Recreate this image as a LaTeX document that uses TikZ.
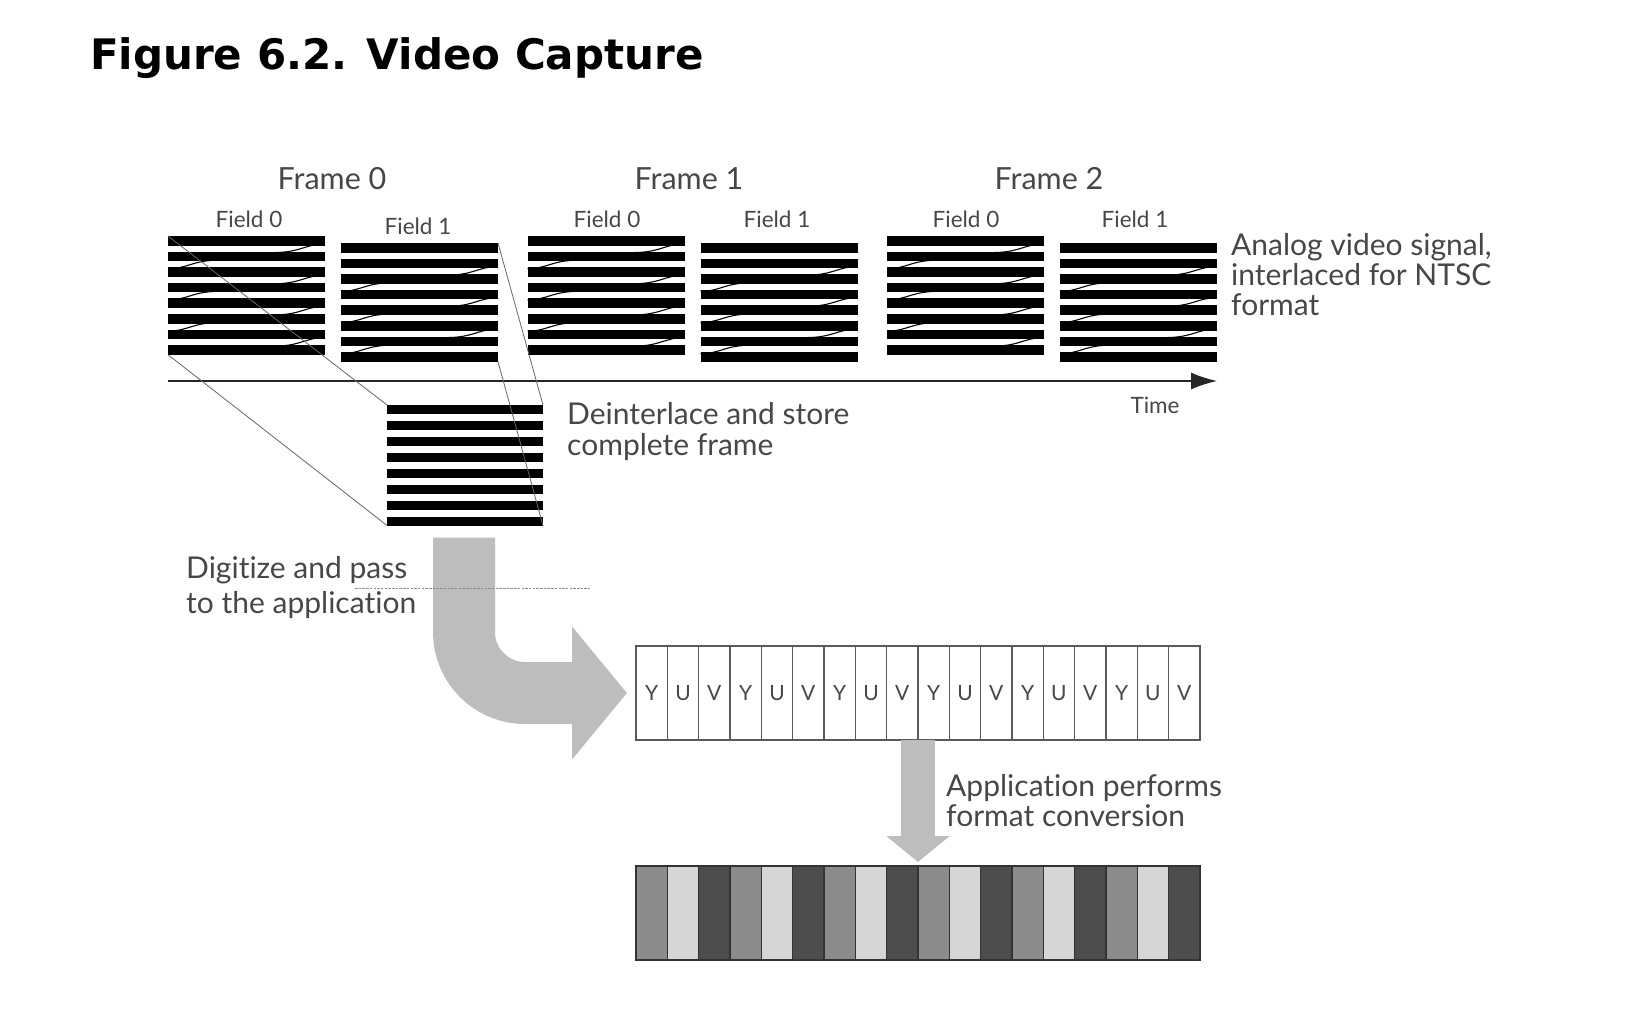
\documentclass[tikz,border=0pt]{standalone}
\usepackage{fontspec}
\setmainfont{Lato}[Ligatures={NoCommon}]
\newfontfamily\titlefont{DejaVu Sans}
\usetikzlibrary{arrows.meta,calc}
\definecolor{txt}{HTML}{474747}
\definecolor{arrowgray}{HTML}{BDBDBD}
\definecolor{cmid}{HTML}{8C8C8C}
\definecolor{clight}{HTML}{D6D6D6}
\definecolor{cdark}{HTML}{4D4D4D}
\tikzset{
  fieldbox/.style={minimum width=157pt, minimum height=118.7pt, inner sep=0pt, outer sep=0pt, anchor=north west},
  deintbox/.style={minimum width=156pt, minimum height=120.5pt, inner sep=0pt, outer sep=0pt, anchor=north west},
  biglabel/.style={font=\fontsize{30}{30}\selectfont, text=txt, align=left, inner sep=0pt, anchor=west},
  framelabel/.style={font=\fontsize{30.5}{32}\selectfont, text=txt, inner sep=0pt},
  smalllabel/.style={font=\fontsize{22.5}{24}\selectfont, text=txt, inner sep=0pt},
  guide/.style={draw=black!60, line width=0.8pt},
  retrace/.style={draw=black, line width=1.1pt},
  yuvcell/.style={draw=black!65, line width=1.3pt, minimum width=31.33pt, minimum height=94pt, inner sep=0pt, outer sep=0pt, anchor=north west, font=\fontsize{21}{22}\selectfont, text=txt},
  pixcell/.style={draw=black!80, line width=1.3pt, minimum width=31.33pt, minimum height=94pt, inner sep=0pt, outer sep=0pt, anchor=north west},
  timeaxis/.style={draw=black!85, line width=1.5pt, -{Latex[length=26pt,width=17pt]}},
  bigflow/.style={draw=arrowgray, line width=62pt, rounded corners=61pt, -{Triangle[width=130pt,length=55pt]}},
  smallflow/.style={draw=arrowgray, line width=34pt, -{Triangle[width=62pt,length=26pt]}},
  callout/.style={draw=black!45, line width=0.8pt, dash pattern=on 2.5pt off 1.2pt}
}
% #1 node name, #2 gaps with retrace at right, #3 gaps with retrace at left
\newcommand{\scanfield}[3]{%
  \foreach \k in {0,...,7}{\fill[black] ($(#1.north west)+(0,\k*15.6)$) rectangle ++(157,9.5);}
  \foreach \g in {#2}{\draw[retrace] ($(#1.north west)+(157,{(\g-1)*15.6+8})$) .. controls +(-20,0) and +(28,0) .. ($(#1.north west)+(105,{\g*15.6+1})$);}
  \foreach \g in {#3}{\draw[retrace] ($(#1.north west)+(0,{\g*15.6+1.5})$) .. controls +(20,0) and +(-28,0) .. ($(#1.north west)+(52,{(\g-1)*15.6+8.5})$);}
}
\begin{document}
\begin{tikzpicture}[x=1pt,y=-1pt]
\useasboundingbox[fill=white] (0,0) rectangle (1628,1014);
% title
\node[anchor=base west, inner sep=0pt, font=\titlefont\bfseries\fontsize{42}{50}\selectfont] (title) at (90,70) {Figure 6.2. Video Capture};
% field blocks
\node[fieldbox] (f0a) at (168,236) {};
\node[fieldbox] (f0b) at (341,243) {};
\node[fieldbox] (f1a) at (527.5,236) {};
\node[fieldbox] (f1b) at (700.5,243) {};
\node[fieldbox] (f2a) at (887,236) {};
\node[fieldbox] (f2b) at (1060,243) {};
\scanfield{f0a}{1,3,5,7}{2,4,6}
\scanfield{f0b}{2,4,6}{3,5,7}
\scanfield{f1a}{1,3,5,7}{2,4,6}
\scanfield{f1b}{2,4,6}{3,5,7}
\scanfield{f2a}{1,3,5,7}{2,4,6}
\scanfield{f2b}{2,4,6}{3,5,7}
% labels
\node[framelabel] (fr0) at (332,179) {Frame 0};
\node[framelabel] (fr1) at (689,179) {Frame 1};
\node[framelabel] (fr2) at (1049,179) {Frame 2};
\node[smalllabel] (l0a) at (249,219) {Field 0};
\node[smalllabel] (l0b) at (418,226) {Field 1};
\node[smalllabel] (l1a) at (607,219) {Field 0};
\node[smalllabel] (l1b) at (777,219) {Field 1};
\node[smalllabel] (l2a) at (966,219) {Field 0};
\node[smalllabel] (l2b) at (1135,219) {Field 1};
% time axis
\coordinate (t0) at (168,381);
\coordinate (t1) at (1217,381);
\draw[timeaxis] (t0) -- (t1);
\node[smalllabel] (time) at (1155,405) {Time};
\node[biglabel] (analog) at (1231,275) {Analog video signal,\\interlaced for NTSC\\format};
% deinterlaced frame
\node[deintbox] (dfr) at (387,405) {};
\foreach \k in {0,...,7}{\fill[black] ($(dfr.north west)+(0,\k*16)$) rectangle ++(156,8.5);}
\draw[guide] (f0a.north west) -- (dfr.north west);
\draw[guide] (f0a.south west) -- (dfr.south west);
\draw[guide] (f0b.north east) -- (dfr.north east);
\draw[guide] (f0b.south east) -- (dfr.south east);
\node[biglabel, font=\fontsize{30}{31}\selectfont] (deint) at (567,432) {Deinterlace and store\\complete frame};
% YUV row
\foreach \L [count=\i from 0] in {Y,U,V,Y,U,V,Y,U,V,Y,U,V,Y,U,V,Y,U,V}
  \node[yuvcell] (yuv\i) at ({636+\i*31.33},646) {\L};
% converted row
\foreach \c [count=\i from 0] in {cmid,clight,cdark,cmid,clight,cdark,cmid,clight,cdark,cmid,clight,cdark,cmid,clight,cdark,cmid,clight,cdark}
  \node[pixcell, fill=\c] (pix\i) at ({636+\i*31.33},866) {};
% big curved arrow
\coordinate (bigstart) at ($(dfr.south)+(-1,12)$);
\coordinate (bigend) at ($(yuv0.west)+(-9,0)$);
\draw[bigflow] (bigstart) |- (bigend);
% callout for digitize
\node[biglabel, font=\fontsize{30}{35}\selectfont] (digit) at (186,588) {Digitize and pass\\to the application};
\coordinate (dashL) at (355,588);
\coordinate (dashR) at (590,588);
\draw[callout] (dashL) -- (dashR);
% conversion arrow
\coordinate (convend) at ($(pix8.north east)+(0,-4)$);
\draw[smallflow] (yuv8.south east) -- (convend);
\node[biglabel] (appl) at (946,801) {Application performs\\format conversion};
\end{tikzpicture}
\end{document}
